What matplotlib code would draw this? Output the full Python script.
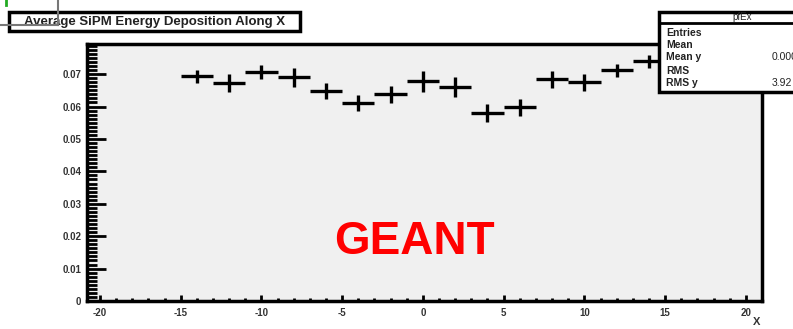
import matplotlib
matplotlib.use("Agg")
import matplotlib.pyplot as plt
from matplotlib.patches import Rectangle
from matplotlib.lines import Line2D
from matplotlib.ticker import MultipleLocator

plt.rcParams['font.family'] = ['Liberation Sans', 'DejaVu Sans']
plt.rcParams['axes.unicode_minus'] = False

# profile data (bin centres, mean energy, error)
x_bins = [-14, -12, -10, -8, -6, -4, -2, 0, 2, 4, 6, 8, 10, 12, 14]
energy = [0.0693, 0.0672, 0.0706, 0.0690, 0.0647, 0.0610, 0.0638, 0.0678,
          0.0660, 0.0580, 0.0598, 0.0684, 0.0675, 0.0712, 0.0740]
energy_err = [0.0020, 0.0027, 0.0022, 0.0030, 0.0025, 0.0025, 0.0026, 0.0032,
              0.0030, 0.0028, 0.0026, 0.0027, 0.0026, 0.0020, 0.0020]
half_width = 1.0

title = "Average SiPM Energy Deposition Along X"
stat_names = ["Entries", "Mean", "Mean y", "RMS", "RMS y"]
stat_values = ["", "", "0.000", "", "3.92"]

W, H = 793, 329
fig = plt.figure(figsize=(W / 100, H / 100), dpi=100)
fig.patch.set_facecolor('white')


def fx(px):
    return px / W


def fy(py):
    return 1 - py / H


ax = fig.add_axes([fx(87), fy(301), fx(762) - fx(87), fy(44) - fy(301)])
ax.set_facecolor('#f0f0f0')

ax.errorbar(x_bins, energy, xerr=half_width, yerr=energy_err, fmt='none',
            ecolor='black', elinewidth=2.4, capsize=0)

ax.set_xlim(-20.8, 21.0)
ax.set_ylim(0, 0.0793)

ax.xaxis.set_major_locator(MultipleLocator(5))
ax.xaxis.set_minor_locator(MultipleLocator(1))
ax.yaxis.set_minor_locator(MultipleLocator(0.00125))
ax.set_yticks([0, 0.01, 0.02, 0.03, 0.04, 0.05, 0.06, 0.07])
ax.set_yticklabels(['0', '0.01', '0.02', '0.03', '0.04', '0.05', '0.06', '0.07'])

ax.tick_params(axis='y', which='major', direction='in', length=14, width=2,
               labelsize=7, colors='black', labelcolor='#333333', pad=4)
ax.tick_params(axis='y', which='minor', direction='in', length=7, width=2)
ax.tick_params(axis='x', which='major', direction='in', length=4.5, width=2,
               labelsize=7, labelcolor='#333333', pad=5)
ax.tick_params(axis='x', which='minor', direction='in', length=2.5, width=2)
ax.tick_params(top=False, right=False)
for sp in ax.spines.values():
    sp.set_linewidth(2.5)

for lbl in ax.get_xticklabels() + ax.get_yticklabels():
    lbl.set_fontweight('bold')

fig.text(fx(757), fy(322), "X", fontsize=8, fontweight='bold',
         ha='center', va='center', color='#333333')

ax.text(-0.55, 0.0183, "GEANT", fontsize=33, fontweight='bold', color='#ff0000',
        ha='center', va='center')

# title box
fig.add_artist(Rectangle((fx(9), fy(31)), fx(300) - fx(9), fy(12) - fy(31),
                         transform=fig.transFigure, facecolor='white',
                         edgecolor='black', linewidth=2.5, zorder=2))
fig.text(fx(155), fy(21.5), title, fontsize=9.5, fontweight='bold',
         ha='center', va='center', color='#222222', zorder=3)

# stray canvas lines
fig.add_artist(Line2D([fx(0), fx(58)], [fy(25), fy(25)], color='#777777',
                      linewidth=1.5, zorder=4))
fig.add_artist(Line2D([fx(58), fx(58)], [fy(0), fy(25)], color='#777777',
                      linewidth=1.5, zorder=4))
fig.add_artist(Line2D([fx(6), fx(6)], [fy(0), fy(5)], color='#22aa22',
                      linewidth=2, zorder=4))

# stats box
fig.add_artist(Rectangle((fx(659), fy(92)), fx(810) - fx(659), fy(12) - fy(92),
                         transform=fig.transFigure, facecolor='white',
                         edgecolor='black', linewidth=2.5, zorder=2))
fig.add_artist(Line2D([fx(659), fx(800)], [fy(23), fy(23)], color='black',
                      linewidth=2, zorder=3))
fig.text(fx(742), fy(17.5), "pfEx", fontsize=7, ha='center', va='center',
         color='#222222', zorder=3)
row_y = [33, 45, 57, 71, 83]
for name, val, ry in zip(stat_names, stat_values, row_y):
    fig.text(fx(666), fy(ry), name, fontsize=7.5, fontweight='bold',
             ha='left', va='center', color='#222222', zorder=3)
    if val:
        fig.text(fx(772), fy(ry), val, fontsize=7.5, ha='left', va='center',
                 color='#222222', zorder=3)

fig.savefig("out.png", dpi=100)
